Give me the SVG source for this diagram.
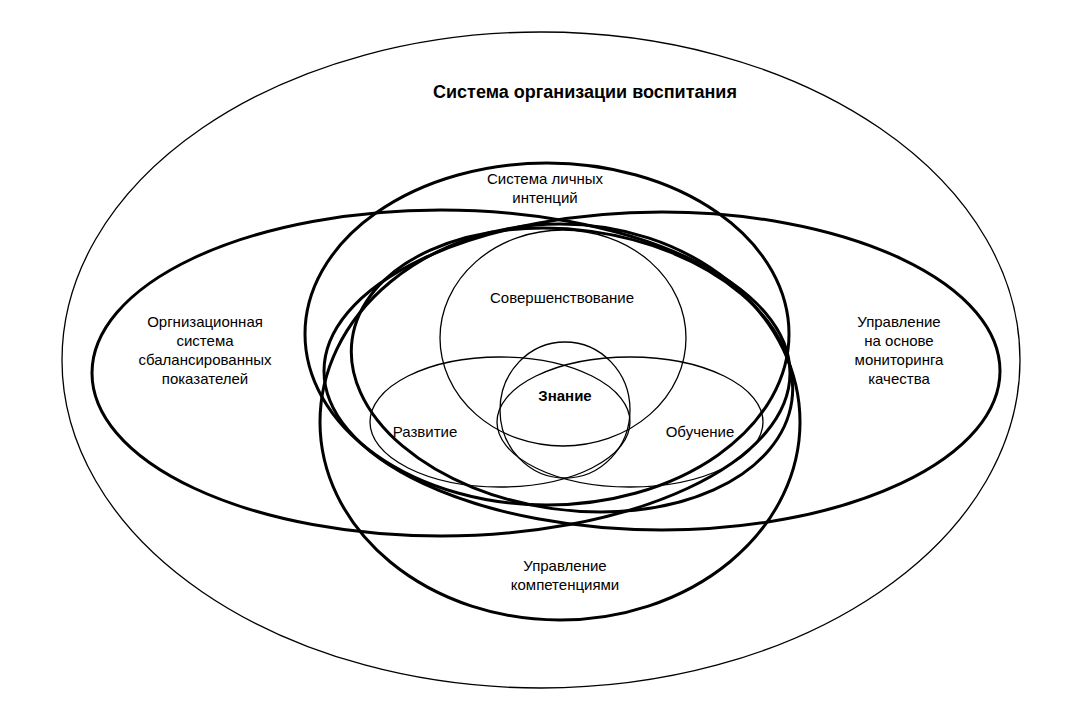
<svg xmlns="http://www.w3.org/2000/svg" width="1082" height="719" viewBox="0 0 1082 719">
<style>
.t{stroke:#000;stroke-width:3;fill:none}
.n{stroke:#000;stroke-width:1.3;fill:none}
text{font-family:"Liberation Sans",Arial,sans-serif;font-size:15px;text-anchor:middle;fill:#000}
.b{font-weight:bold}
</style>
<rect width="1082" height="719" fill="#fff"/>
<g id="outer"><ellipse class="n" cx="541" cy="360" rx="479" ry="328"/><text class="b" x="585" y="98" style="font-size:18px">Система организации воспитания</text></g>
<g id="left"><ellipse class="t" cx="441" cy="373" rx="349" ry="163"/><text x="205" y="327">Оргнизационная</text><text x="205" y="346">система</text><text x="205" y="365">сбалансированных</text><text x="205" y="384">показателей</text></g>
<g id="right"><ellipse class="t" cx="662" cy="371" rx="338" ry="159"/><text x="899" y="327">Управление</text><text x="899" y="346">на основе</text><text x="899" y="365">мониторинга</text><text x="899" y="384">качества</text></g>
<g id="top"><ellipse class="t" cx="547" cy="334" rx="242" ry="171"/><text x="545" y="184">Система личных</text><text x="545" y="203">интенций</text></g>
<g id="bottom"><ellipse class="t" cx="560" cy="422" rx="240" ry="198"/><text x="565" y="571">Управление</text><text x="565" y="590">компетенциями</text></g>
<g id="inner"><ellipse class="t" cx="572" cy="370" rx="222" ry="140" transform="rotate(8 572 370)"/></g>
<g id="sov"><ellipse class="n" cx="563" cy="338" rx="123" ry="108"/><text x="562" y="303">Совершенствование</text></g>
<g id="raz"><ellipse class="n" cx="500" cy="422" rx="130" ry="65"/><text x="425" y="437">Развитие</text></g>
<g id="obu"><ellipse class="n" cx="630" cy="422" rx="133" ry="65"/><text x="700" y="437">Обучение</text></g>
<g id="zna"><ellipse class="n" cx="565" cy="410" rx="65" ry="68"/><text class="b" x="565" y="401">Знание</text></g>
<g id="connectors"/>
</svg>
